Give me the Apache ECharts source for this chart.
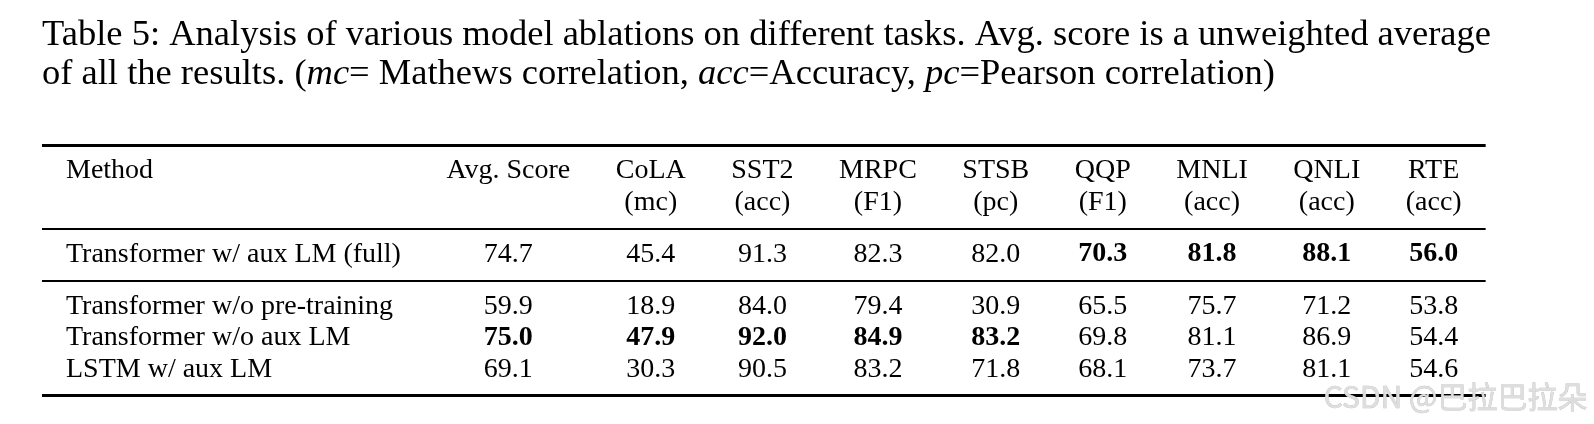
<!DOCTYPE html>
<html>
<head>
<meta charset="utf-8">
<title>Table 5</title>
<script src="https://cdn.jsdelivr.net/npm/echarts@6/dist/echarts.min.js"></script>
<style>
  html, body { margin: 0; padding: 0; background: #fff; }
  #table { width: 1594px; height: 424px; }
</style>
</head>
<body>
<div id="table"></div>
<script>
// table data
const methods = [
  'Transformer w/ aux LM (full)',
  'Transformer w/o pre-training',
  'Transformer w/o aux LM',
  'LSTM w/ aux LM'
]
const columns = ['Avg. Score', 'CoLA', 'SST2', 'MRPC', 'STSB', 'QQP', 'MNLI', 'QNLI', 'RTE']
const metrics = ['', 'mc', 'acc', 'F1', 'pc', 'F1', 'acc', 'acc', 'acc']
const fullModel = [74.7, 45.4, 91.3, 82.3, 82.0, 70.3, 81.8, 88.1, 56.0]
const noPretrain = [59.9, 18.9, 84.0, 79.4, 30.9, 65.5, 75.7, 71.2, 53.8]
const noAuxLM = [75.0, 47.9, 92.0, 84.9, 83.2, 69.8, 81.1, 86.9, 54.4]
const lstmAuxLM = [69.1, 30.3, 90.5, 83.2, 71.8, 68.1, 73.7, 81.1, 54.6]
const rowValues = [fullModel, noPretrain, noAuxLM, lstmAuxLM]
// rows between rules: full model, then the ablations
const rowGroups = [[0], [1, 2, 3]]

const captionLine1 = 'Table 5: Analysis of various model ablations on different tasks. Avg. score is a unweighted average'
const watermark = 'CSDN @巴拉巴拉朵'

// layout (pixels, the grid spans the whole canvas)
const W = 1594
const H = 424
const FONT = '"Liberation Serif", "Times New Roman", serif'
const FS = 28
const CAP_FS = 36.5
const CAP_WIDTH = 1449
const TABLE_LEFT = 66
const COL_GAP = 45.5
const RULE_PAD = 24
const TOP_RULE = 145
const LINE_SKIP = 31.5
const RULE_TO_BASE = 33.5
const BASE_TO_RULE = 18.5
const MID = 0.28 * FS // alphabetic baseline -> text middle

const ctx = document.createElement('canvas').getContext('2d')
function textW (s, bold, size) {
  ctx.font = (bold ? 'bold ' : '') + (size || FS) + 'px ' + FONT
  return ctx.measureText(s).width
}

// best value of each column is bold
const best = columns.map((c, j) => Math.max.apply(null, rowValues.map(r => r[j])))
const isBold = (i, j) => rowValues[i][j] === best[j]

// column widths like a tabular: widest entry + constant gap
let methodW = textW('Method')
methods.forEach(m => { methodW = Math.max(methodW, textW(m)) })
let x = TABLE_LEFT + methodW + COL_GAP
const colX = []
let lastRight = 0
columns.forEach((c, j) => {
  let w = Math.max(textW(c), metrics[j] ? textW('(' + metrics[j] + ')') : 0)
  rowValues.forEach((r, i) => { w = Math.max(w, textW(r[j].toFixed(1), isBold(i, j))) })
  colX.push(x + w / 2)
  lastRight = x + w
  x += w + COL_GAP
})
const ruleLeft = TABLE_LEFT - RULE_PAD
const ruleRight = lastRight + RULE_PAD

// vertical layout: rules and baselines
const rules = [{ y: TOP_RULE, w: 3 }]
const headBase1 = TOP_RULE + RULE_TO_BASE
const headBase2 = headBase1 + LINE_SKIP
let y = headBase2 + BASE_TO_RULE
rules.push({ y: y, w: 2 })
const rowBase = []
rowGroups.forEach((g, gi) => {
  let b = y + RULE_TO_BASE
  g.forEach((i, k) => {
    rowBase[i] = b
    if (k < g.length - 1) b += LINE_SKIP
  })
  y = b + BASE_TO_RULE
  rules.push({ y: y, w: gi === rowGroups.length - 1 ? 3 : 2 })
})

// cells
const cells = []
function cell (cx, base, text, opts) {
  opts = opts || {}
  cells.push({
    value: [cx, base - MID, text],
    label: {
      align: opts.align || 'center',
      fontWeight: opts.bold ? 'bold' : 'normal',
      color: '#000'
    }
  })
}
cell(TABLE_LEFT, headBase1, 'Method', { align: 'left' })
columns.forEach((c, j) => {
  cell(colX[j], headBase1, c)
  if (metrics[j]) cell(colX[j], headBase2, '(' + metrics[j] + ')')
})
methods.forEach((m, i) => {
  cell(TABLE_LEFT, rowBase[i], m, { align: 'left' })
  rowValues[i].forEach((v, j) => cell(colX[j], rowBase[i], v.toFixed(1), { bold: isBold(i, j) }))
})

// caption, first line justified by adjusting the spaces
const words = captionLine1.split(' ')
const natural = textW(captionLine1, false, CAP_FS)
const spaceW = textW(' ', false, CAP_FS) + (CAP_WIDTH - natural) / (words.length - 1)
const caption = words.map(w => '{n|' + w + '}').join('{sp| }') + '\n' +
  '{n|of all the results. (}{i|mc}{n|= Mathews correlation, }{i|acc}{n|=Accuracy, }{i|pc}{n|=Pearson correlation)}'
const capStyle = { fontFamily: FONT, fontSize: CAP_FS, fontWeight: 'normal', color: '#000', lineHeight: 39 }

const myChart = echarts.init(document.getElementById('table'), null, { renderer: 'canvas' })
const option = {
  backgroundColor: '#fff',
  animation: false,
  title: [{
    text: caption,
    left: 42,
    top: 16,
    padding: 0,
    textStyle: {
      fontWeight: 'normal',
      fontFamily: FONT,
      fontSize: CAP_FS,
      color: '#000',
      rich: {
        n: capStyle,
        i: Object.assign({}, capStyle, { fontStyle: 'italic' }),
        sp: Object.assign({}, capStyle, { width: spaceW })
      }
    }
  }, {
    text: watermark,
    right: 6,
    top: 382,
    padding: 0,
    textStyle: {
      fontFamily: '"Noto Sans CJK SC", sans-serif',
      fontSize: 30,
      fontWeight: 'normal',
      color: '#dedede',
      textBorderColor: '#bdbdbd',
      textBorderWidth: 0.6
    }
  }],
  grid: { left: 0, right: 0, top: 0, bottom: 0 },
  xAxis: { type: 'value', min: 0, max: W, show: false },
  yAxis: { type: 'value', min: 0, max: H, inverse: true, show: false },
  series: [{
    type: 'lines',
    coordinateSystem: 'cartesian2d',
    polyline: false,
    silent: true,
    z: 1,
    lineStyle: { color: '#000', opacity: 1 },
    data: rules.map(r => ({ coords: [[ruleLeft, r.y], [ruleRight, r.y]], lineStyle: { width: r.w } }))
  }, {
    type: 'scatter',
    symbolSize: 1,
    silent: true,
    itemStyle: { color: 'rgba(0,0,0,0)', opacity: 1 },
    label: {
      show: true,
      position: 'inside',
      verticalAlign: 'middle',
      fontFamily: FONT,
      fontSize: FS,
      color: '#000',
      textBorderWidth: 0,
      formatter: p => p.value[2]
    },
    data: cells
  }]
}
myChart.setOption(option)
</script>
</body>
</html>
